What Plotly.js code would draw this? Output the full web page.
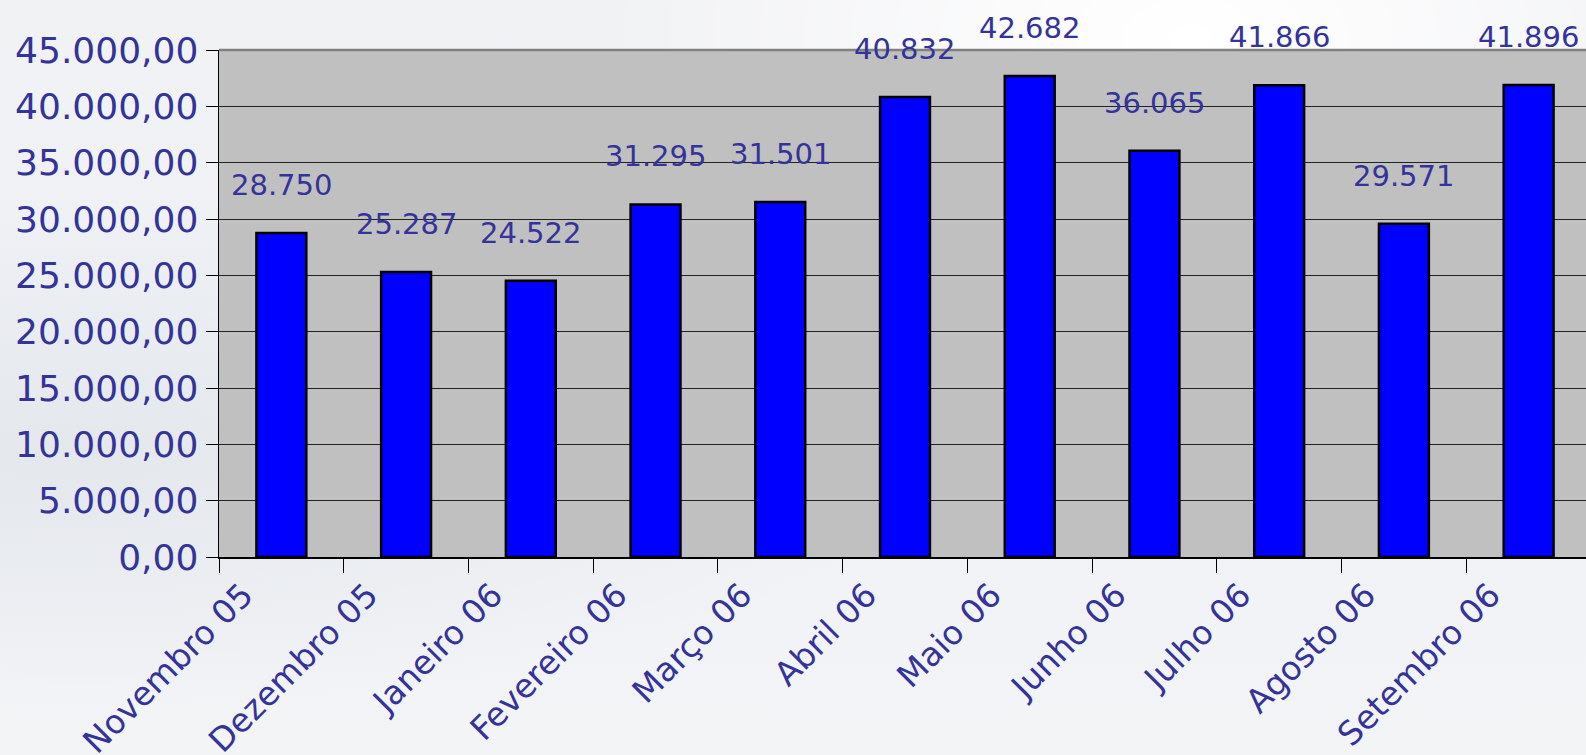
<!DOCTYPE html>
<html>
<head>
<meta charset="utf-8">
<script src="https://cdn.plot.ly/plotly-3.0.1.min.js"></script>
<style>
html,body{margin:0;padding:0;}
body{width:1586px;height:755px;overflow:hidden;
background: radial-gradient(ellipse at 75% 5%, #ffffff 0%, rgba(255,255,255,0) 35%),
            radial-gradient(ellipse at 5% 60%, #e4e7ec 0%, rgba(228,231,236,0) 40%),
            linear-gradient(180deg, #f1f2f4 0%, #eef1f5 50%, #f3f4f6 100%);}
#chart{width:1586px;height:755px;}
</style>
</head>
<body>
<div id="chart"></div>
<script>
const months = ["Novembro 05","Dezembro 05","Janeiro 06","Fevereiro 06","Março 06","Abril 06","Maio 06","Junho 06","Julho 06","Agosto 06","Setembro 06"];
const values = [28750, 25287, 24522, 31295, 31501, 40832, 42682, 36065, 41866, 29571, 41896];
const yTicks = [0,5000,10000,15000,20000,25000,30000,35000,40000,45000];

const textColor = "#333399";

function fmtThousands(v){
  return String(Math.round(v)).replace(/\B(?=(\d{3})+(?!\d))/g, ".");
}

const trace = {
  type: "bar",
  x: months,
  y: values,
  marker: {color: "#0000FF", line: {color: "#000000", width: 2.5}},
  hoverinfo: "x+y"
};

const annotations = months.map((m, i) => ({
  x: m, y: values[i], xref: "x", yref: "y",
  text: fmtThousands(values[i]),
  showarrow: false, yanchor: "middle", yshift: 48,
  font: {family: "DejaVu Sans, Verdana, sans-serif", size: 29, color: textColor}
}));

const layout = {
  width: 1586, height: 755,
  margin: {l: 219, r: 0, t: 50, b: 198},
  paper_bgcolor: "rgba(0,0,0,0)",
  plot_bgcolor: "#C0C0C0",
  separators: ",.",
  bargap: 0.6,
  showlegend: false,
  xaxis: {
    type: "category",
    range: [-0.5, 10.46],
    tickson: "boundaries",
    ticks: "outside", ticklen: 14, tickcolor: "#000", tickwidth: 1,
    showline: true, linecolor: "#000", linewidth: 1.5,
    showgrid: false,
    tickangle: -45,
    ticklabelshift: -38,
    ticklabelstandoff: 4,
    tickfont: {family: "DejaVu Sans, Verdana, sans-serif", size: 33, color: textColor}
  },
  yaxis: {
    range: [0, 45000],
    tickvals: yTicks,
    tickformat: ",.2f",
    ticks: "outside", ticklen: 12, tickcolor: "#000", tickwidth: 1,
    showline: true, linecolor: "#000", linewidth: 1.5,
    showgrid: true, gridcolor: "#222", gridwidth: 1,
    zeroline: false,
    tickfont: {family: "DejaVu Sans, Verdana, sans-serif", size: 36, color: textColor}
  },
  shapes: [{type: "line", xref: "paper", yref: "paper", x0: 0, x1: 1, y0: 1, y1: 1,
            line: {color: "#808080", width: 2.5}}],
  annotations: annotations
};

Plotly.newPlot("chart", [trace], layout, {displayModeBar: false, staticPlot: true});
</script>
</body>
</html>
